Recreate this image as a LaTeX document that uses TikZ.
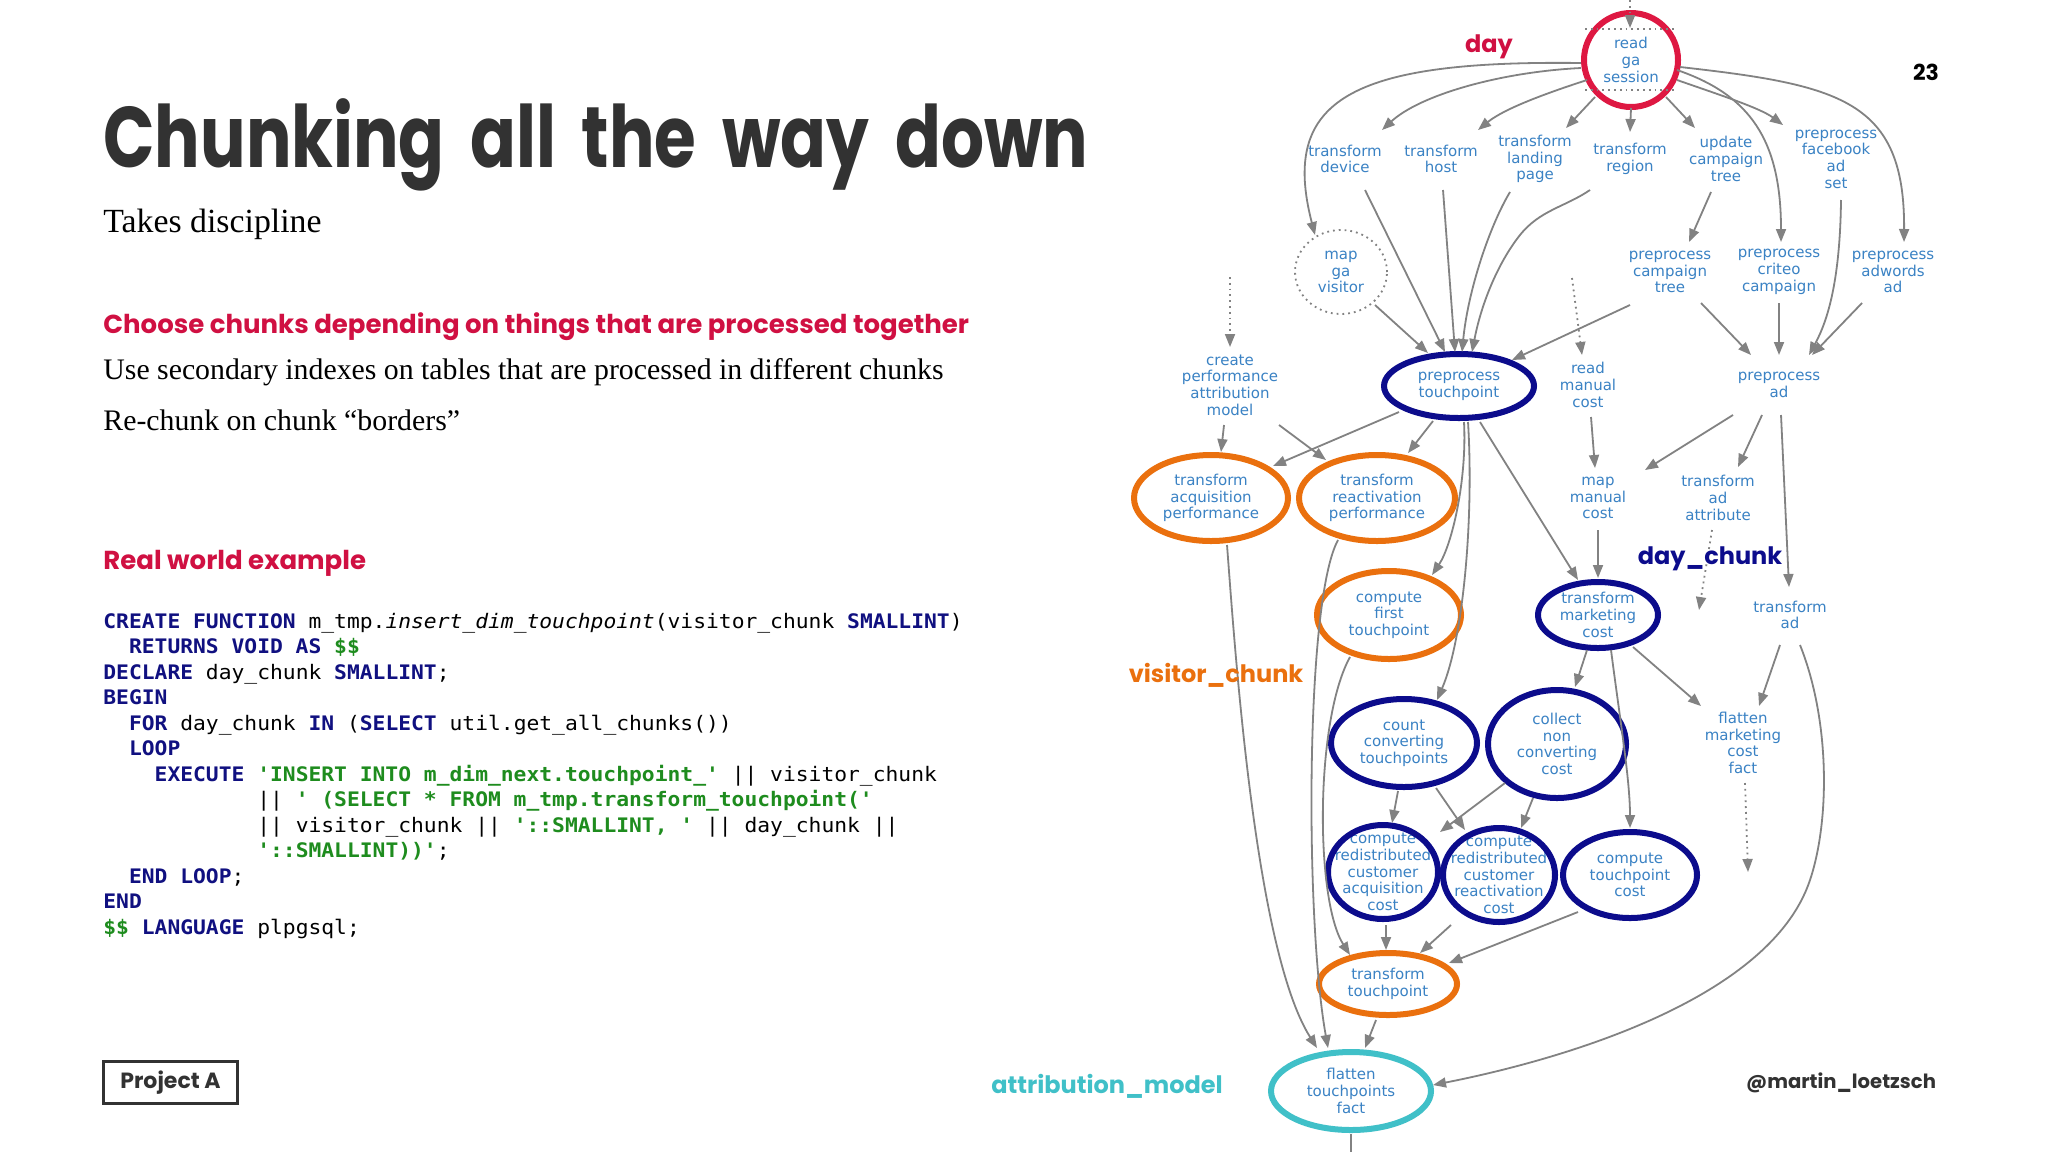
\documentclass[tikz,border=0pt]{standalone}
\usepackage{fontspec}
\usetikzlibrary{arrows.meta,calc,shapes.geometric}
\setmainfont{Liberation Serif}
\newfontfamily\headfont{Poppins}
\newfontfamily\titlefont{Poppins}[FakeStretch=0.786]
\newfontfamily\nodefont{DejaVu Sans}
\newfontfamily\codefont{DejaVu Sans Mono}[FakeStretch=1.065]
\definecolor{nodeblue}{RGB}{58,130,196}
\definecolor{edgegray}{RGB}{130,130,130}
\definecolor{ringred}{RGB}{222,24,66}
\definecolor{ringnavy}{RGB}{12,12,140}
\definecolor{ringorange}{RGB}{234,112,14}
\definecolor{ringteal}{RGB}{64,192,200}
\definecolor{headred}{RGB}{208,16,66}
\definecolor{titlegray}{RGB}{50,50,50}
\definecolor{codenavy}{RGB}{16,16,128}
\definecolor{codegreen}{RGB}{30,140,30}
\newcommand\kw[1]{{\bfseries\color{codenavy}#1}}
\newcommand\str[1]{{\bfseries\color{codegreen}#1}}
\newcommand\tgap{\ \hspace{5.7pt}}
\tikzset{
  lbl/.style={font=\nodefont\fontsize{7.5pt}{8.35pt}\selectfont, text=nodeblue, align=center, inner sep=0pt},
  edge/.style={draw=edgegray, line width=0.9pt, -{Triangle[length=6.5pt,width=5pt]}},
  dotedge/.style={edge, dotted},
  plain/.style={draw=edgegray, line width=0.9pt},
  ring/.style={line width=3pt},
  codeline/.style={anchor=base west, inner sep=0pt, font=\codefont\fontsize{10pt}{12pt}\selectfont},
  bodytext/.style={anchor=base west, inner sep=0pt, font=\fontsize{14.9pt}{17pt}\selectfont},
  headtext/.style={anchor=base west, inner sep=0pt, font=\headfont\bfseries\fontsize{13pt}{15pt}\selectfont, text=headred},
  chunklbl/.style={inner sep=0pt, font=\headfont\bfseries\fontsize{12pt}{14pt}\selectfont},
}
\begin{document}
\begin{tikzpicture}[x=0.5pt,y=-0.5pt]
\fill[white] (0,0) rectangle (2048,1152);
\useasboundingbox (0,0) rectangle (2048,1152);

% ---------------- left column ----------------
\node[anchor=base west, inner sep=0pt, font=\titlefont\bfseries\fontsize{43pt}{50pt}\selectfont, text=titlegray] (title) at (103,167) {Chunking\tgap all\tgap the\tgap way\tgap down};
\node[anchor=base west, inner sep=0pt, font=\fontsize{16.9pt}{19pt}\selectfont] (sub) at (103,232) {Takes discipline};
\node[headtext] (h1) at (103,333) {Choose chunks depending on things that are processed together};
\node[bodytext] (b1) at (103,379) {Use secondary indexes on tables that are processed in different chunks};
\node[bodytext] (b2) at (103,430) {Re-chunk on chunk “borders”};
\node[headtext] (h2) at (103,569) {Real world example};

\node[codeline] (c1) at (103,628) {\kw{CREATE FUNCTION} m\_tmp.\textit{insert\_dim\_touchpoint}(visitor\_chunk \kw{SMALLINT})};
\node[codeline] (c2) at (103,653.5) {\hphantom{xx}\kw{RETURNS VOID AS} \str{\$\$}};
\node[codeline] (c3) at (103,679) {\kw{DECLARE} day\_chunk \kw{SMALLINT};};
\node[codeline] (c4) at (103,704.5) {\kw{BEGIN}};
\node[codeline] (c5) at (103,730) {\hphantom{xx}\kw{FOR} day\_chunk \kw{IN} (\kw{SELECT} util.get\_all\_chunks())};
\node[codeline] (c6) at (103,755.5) {\hphantom{xx}\kw{LOOP}};
\node[codeline] (c7) at (103,781) {\hphantom{xxxx}\kw{EXECUTE} \str{'INSERT INTO m\_dim\_next.touchpoint\_'} || visitor\_chunk};
\node[codeline] (c8) at (103,806.5) {\hphantom{xxxxxxxxxxxx}|| \str{' (SELECT * FROM m\_tmp.transform\_touchpoint('}};
\node[codeline] (c9) at (103,832) {\hphantom{xxxxxxxxxxxx}|| visitor\_chunk || \str{'::SMALLINT, '} || day\_chunk ||};
\node[codeline] (c10) at (103,857.5) {\hphantom{xxxxxxxxxxxx}\str{'::SMALLINT))'};};
\node[codeline] (c11) at (103,883) {\hphantom{xx}\kw{END LOOP};};
\node[codeline] (c12) at (103,908.5) {\kw{END}};
\node[codeline] (c13) at (103,934) {\str{\$\$} \kw{LANGUAGE} plpgsql;};

\node[draw=titlegray, line width=1.5pt, minimum width=67pt, minimum height=21pt, inner sep=0pt,
      font=\headfont\bfseries\fontsize{11pt}{13pt}\selectfont, text=titlegray] (proj) at (170.5,1082.5) {Project A};

\node[inner sep=0pt, font=\headfont\bfseries\fontsize{11pt}{13pt}\selectfont, text=black] (page) at (1926,72) {23};
\node[inner sep=0pt, font=\headfont\bfseries\fontsize{9.8pt}{12pt}\selectfont, text=titlegray] (author) at (1841,1083) {@martin\_loetzsch};

% ---------------- graph nodes ----------------
\node[lbl] (rgs) at (1631,60) {read\\ga\\session};
\node[lbl] (td) at (1345,159) {transform\\device};
\node[lbl] (th) at (1441,159) {transform\\host};
\node[lbl] (tlp) at (1535,159) {transform\\landing\\page};
\node[lbl] (tr) at (1630,159) {transform\\region};
\node[lbl] (uct) at (1726,159) {update\\campaign\\tree};
\node[lbl] (pfa) at (1836,159) {preprocess\\facebook\\ad\\set};
\node[lbl] (mgv) at (1341,272) {map\\ga\\visitor};
\node[lbl] (pct) at (1670,272) {preprocess\\campaign\\tree};
\node[lbl] (pcc) at (1779,272) {preprocess\\criteo\\campaign};
\node[lbl] (paa) at (1893,272) {preprocess\\adwords\\ad};
\node[lbl] (cpam) at (1230,385) {create\\performance\\attribution\\model};
\node[lbl] (pt) at (1459,386) {preprocess\\touchpoint};
\node[lbl] (rmc) at (1588,385) {read\\manual\\cost};
\node[lbl] (pad) at (1779,385) {preprocess\\ad};
\node[lbl] (tap) at (1211,498) {transform\\acquisition\\performance};
\node[lbl] (trp) at (1377,498) {transform\\reactivation\\performance};
\node[lbl] (mmc) at (1598,498) {map\\manual\\cost};
\node[lbl] (taa) at (1718,498) {transform\\ad\\attribute};
\node[lbl] (cft) at (1389,615) {compute\\first\\touchpoint};
\node[lbl] (tmc) at (1598,615) {transform\\marketing\\cost};
\node[lbl] (tad) at (1790,615) {transform\\ad};
\node[lbl] (cct) at (1404,743) {count\\converting\\touchpoints};
\node[lbl] (cnc) at (1557,744) {collect\\non\\converting\\cost};
\node[lbl] (fmc) at (1743,743) {flatten\\marketing\\cost\\fact};
\node[lbl] (rca) at (1383,872) {compute\\redistributed\\customer\\acquisition\\cost};
\node[lbl] (rcr) at (1499,875) {compute\\redistributed\\customer\\reactivation\\cost};
\node[lbl] (ctc) at (1630,875) {compute\\touchpoint\\cost};
\node[lbl] (tt) at (1388,984) {transform\\touchpoint};
\node[lbl] (ftf) at (1351,1091) {flatten\\touchpoints\\fact};

% rings
\draw[ring, draw=ringred] (rgs.center) ellipse [x radius=23.5pt, y radius=23.5pt];
\draw[ring, draw=ringnavy] (pt.center) ellipse [x radius=37.5pt, y radius=16pt];
\draw[ring, draw=ringorange] (tap.center) ellipse [x radius=38.5pt, y radius=21.5pt];
\draw[ring, draw=ringorange] (trp.center) ellipse [x radius=39pt, y radius=21.5pt];
\draw[ring, draw=ringorange] (cft.center) ellipse [x radius=36pt, y radius=22pt];
\draw[ring, draw=ringnavy] (tmc.center) ellipse [x radius=30pt, y radius=16.5pt];
\draw[ring, draw=ringnavy] (cct.center) ellipse [x radius=36.5pt, y radius=22pt];
\draw[ring, draw=ringnavy] (cnc.center) ellipse [x radius=34.5pt, y radius=27pt];
\draw[ring, draw=ringnavy] (rca.center) ellipse [x radius=27.5pt, y radius=23.5pt];
\draw[ring, draw=ringnavy] (rcr.center) ellipse [x radius=28pt, y radius=23.5pt];
\draw[ring, draw=ringnavy] (ctc.center) ellipse [x radius=33.5pt, y radius=21.5pt];
\draw[ring, draw=ringorange] (tt.center) ellipse [x radius=34.5pt, y radius=15.5pt];
\draw[ring, draw=ringteal] (ftf.center) ellipse [x radius=40pt, y radius=19.5pt];
\draw[edgegray, line width=0.9pt, dotted] (mgv.center) ellipse [x radius=23pt, y radius=21pt];
\draw[edgegray, line width=0.9pt, dotted] ($(rgs)+(-46,-31)$) -- ($(rgs)+(44,-31)$);
\draw[edgegray, line width=0.9pt, dotted] ($(rgs)+(-46,30)$) -- ($(rgs)+(44,30)$);

% free ends
\coordinate (topin) at (1630,0);
\coordinate (rmcin) at (1572,278);
\coordinate (cpamin) at (1230,277);
\coordinate (taaout) at (1699,610);
\coordinate (fmcout) at (1748,872);
\coordinate (ftfout) at (1351,1152);

% ---------------- edges ----------------
\draw[dotedge] (topin) -- ($(rgs)+(-1,-32)$);
\draw[edge] ($(rgs)+(-50,3)$) .. controls (1350,60) and (1280,100) .. ($(mgv)+(-26,-37)$);
\draw[edge] ($(rgs)+(-50,8)$) .. controls (1500,72) and (1420,95) .. ($(td)+(37,-29)$);
\draw[edge] ($(rgs)+(-44,20)$) .. controls (1550,92) and (1505,108) .. ($(th)+(37,-29)$);
\draw[edge] ($(rgs)+(-36,37)$) -- ($(tlp)+(31,-31)$);
\draw[edge] ($(rgs)+(0,48)$) -- ($(tr)+(0,-27)$);
\draw[edge] ($(rgs)+(35,37)$) -- ($(uct)+(-31,-31)$);
\draw[edge] ($(rgs)+(46,20)$) .. controls (1720,95) and (1760,108) .. ($(pfa)+(-53,-34)$);
\draw[edge] ($(rgs)+(46,10)$) .. controls (1750,95) and (1781,140) .. ($(pcc)+(2,-30)$);
\draw[edge] ($(rgs)+(49,7)$) .. controls (1840,85) and (1905,100) .. ($(paa)+(11,-30)$);

\draw[edge] ($(td)+(20,31)$) -- ($(pt)+(-14,-34)$);
\draw[edge] ($(th)+(2,31)$) -- ($(pt)+(-4,-34)$);
\draw[edge] ($(tlp)+(-25,33)$) .. controls (1490,225) and (1468,290) .. ($(pt)+(3,-34)$);
\draw[edge] ($(tr)+(-40,31)$) .. controls (1565,207) and (1540,210) .. (1520,235) .. controls (1500,260) and (1482,300) .. ($(pt)+(13,-34)$);
\draw[edge] ($(mgv)+(34,33)$) -- ($(pt)+(-31,-33)$);
\draw[edge] ($(pct)+(-40,33)$) -- ($(pt)+(53,-26)$);
\draw[edge] ($(uct)+(-15,33)$) -- ($(pct)+(19,-30)$);
\draw[edge] ($(pct)+(31,31)$) -- ($(pad)+(-28,-30)$);
\draw[edge] ($(pcc)+(0,31)$) -- ($(pad)+(0,-30)$);
\draw[edge] ($(pfa)+(5,41)$) .. controls (1840,280) and (1828,320) .. ($(pad)+(30,-30)$);
\draw[edge] ($(paa)+(-31,31)$) -- ($(pad)+(33,-30)$);
\draw[dotedge] (rmcin) -- ($(rmc)+(-6,-30)$);
\draw[dotedge] (cpamin) -- ($(cpam)+(0,-38)$);

\draw[edge] ($(cpam)+(-6,40)$) -- ($(tap)+(10,-46)$);
\draw[edge] ($(cpam)+(49,40)$) -- ($(trp)+(-51,-38)$);
\draw[edge] ($(pt)+(-60,26)$) -- ($(tap)+(62,-32)$);
\draw[edge] ($(pt)+(-26,35)$) -- ($(trp)+(31,-45)$);
\draw[edge] ($(pt)+(5,36)$) .. controls (1467,480) and (1452,545) .. ($(cft)+(43,-40)$);
\draw[edge] ($(pt)+(9,36)$) .. controls (1474,520) and (1463,640) .. ($(cct)+(33,-43)$);
\draw[edge] ($(pt)+(21,36)$) -- ($(tmc)+(-20,-35)$);
\draw[edge] ($(rmc)+(3,32)$) -- ($(mmc)+(-3,-30)$);
\draw[edge] ($(pad)+(-46,30)$) -- ($(mmc)+(47,-28)$);
\draw[edge] ($(pad)+(-17,30)$) -- ($(taa)+(20,-31)$);
\draw[edge] ($(pad)+(2,30)$) -- ($(tad)+(-1,-28)$);
\draw[edge] ($(mmc)+(0,32)$) -- ($(tmc)+(0,-37)$);
\draw[dotedge] ($(taa)+(-6,32)$) -- (taaout);

\draw[edge] ($(tap)+(16,47)$) .. controls (1235,650) and (1255,950) .. ($(ftf)+(-34,-43)$);
\draw[edge] ($(trp)+(-39,42)$) .. controls (1305,600) and (1305,920) .. ($(ftf)+(-23,-43)$);
\draw[edge] ($(cft)+(-39,42)$) .. controls (1315,720) and (1315,900) .. ($(tt)+(-38,-29)$);
\draw[edge] ($(tmc)+(-11,35)$) -- ($(cnc)+(18,-57)$);
\draw[edge] ($(tmc)+(13,35)$) .. controls (1620,720) and (1630,780) .. ($(ctc)+(0,-47)$);
\draw[edge] ($(tmc)+(35,32)$) -- ($(fmc)+(-42,-37)$);
\draw[edge] ($(tad)+(-10,30)$) -- ($(fmc)+(16,-37)$);
\draw[edge] ($(tad)+(10,30)$) .. controls (1830,720) and (1830,820) .. (1810,880) .. controls (1770,1000) and (1560,1060) .. ($(ftf)+(82,-6)$);

\draw[edge] ($(cct)+(-6,48)$) -- ($(rca)+(9,-49)$);
\draw[edge] ($(cct)+(32,45)$) -- ($(rcr)+(-34,-45)$);
\draw[edge] ($(cnc)+(-52,39)$) -- ($(rca)+(57,-40)$);
\draw[edge] ($(cnc)+(-24,54)$) -- ($(rcr)+(22,-47)$);
\draw[dotedge] ($(fmc)+(2,40)$) -- (fmcout);
\draw[edge] ($(rca)+(3,53)$) -- ($(tt)+(-2,-34)$);
\draw[edge] ($(rcr)+(-48,50)$) -- ($(tt)+(32,-31)$);
\draw[edge] ($(ctc)+(-52,37)$) -- ($(tt)+(61,-21)$);
\draw[edge] ($(tt)+(-12,36)$) -- ($(ftf)+(14,-43)$);
\draw[plain] ($(ftf)+(0,43)$) -- (ftfout);

% chunk labels
\node[chunklbl, text=headred] (lday) at (1489,47) {day};
\node[chunklbl, text=ringnavy] (ldaychunk) at (1710,559) {day\_chunk};
\node[chunklbl, text=ringorange] (lvisitor) at (1216,675) {visitor\_chunk};
\node[chunklbl, text=ringteal] (lattr) at (1107,1086) {attribution\_model};
\end{tikzpicture}
\end{document}
